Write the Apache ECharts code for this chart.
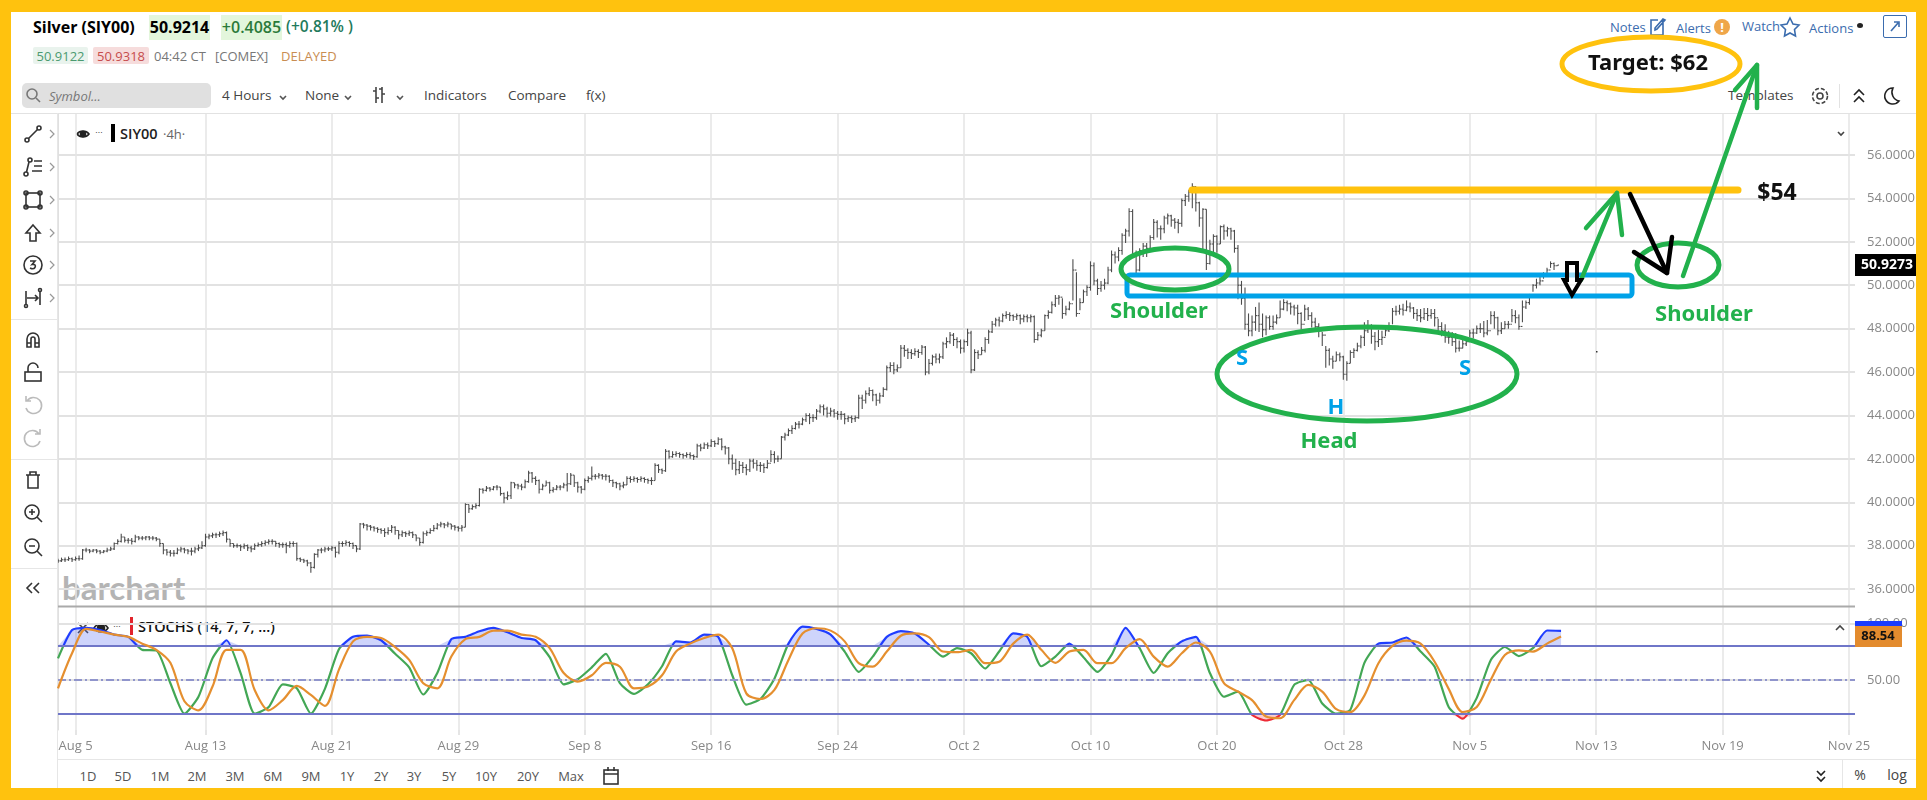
<!DOCTYPE html>
<html lang="en">
<head>
<meta charset="UTF-8">
<title>Silver (SIY00) 4h</title>
<style>
    html, body { margin: 0; padding: 0; background: #ffc20e; width: 1927px; height: 800px; overflow: hidden; font-family: 'Open Sans', sans-serif; }
    #page { position: absolute; left: 11px; top: 12px; width: 1905px; height: 776px; background: #fff; }
    #chrome { position: absolute; left: 0; top: 0; width: 1927px; height: 800px; }
    #chrome span { position: absolute; white-space: nowrap; transform: translateY(-50%); line-height: 1; }
    #chrome i { position: absolute; display: block; }
    #chrome svg { position: absolute; fill: none; stroke: #333; stroke-width: 1.6; }
    #chart { position: absolute; left: 0; top: 0; width: 1927px; height: 800px; }
</style>
<script src="https://cdn.jsdelivr.net/npm/echarts@6/dist/echarts.min.js"></script>
</head>
<body>
<div id="page"></div>
<div id="chrome"></div>
<div id="chart"></div>
<script>
// tick positions on the x axis, in 4h bars from the left edge of the plot
const tickBars = [5, 42, 78, 114, 150, 186, 222, 258, 294, 330, 366, 402, 438, 474, 510];
const tickLabels = ['Aug 5', 'Aug 13', 'Aug 21', 'Aug 29', 'Sep 8', 'Sep 16', 'Sep 24', 'Oct 2', 'Oct 10', 'Oct 20', 'Oct 28', 'Nov 5', 'Nov 13', 'Nov 19', 'Nov 25'];
const priceTicks = [36, 38, 40, 42, 44, 46, 48, 50, 52, 54, 56];
const stochTicks = [100, 50];
const lastPrice = 50.9273;
const lastStoch = '88.54';

const barClose = [
    37.3, 37.35, 37.35, 37.4, 37.35, 37.4, 37.4, 37.8, 37.8, 37.75,
    37.8, 37.75, 37.7, 37.75, 37.8, 37.85, 38.1, 38.2, 38.4, 38.25,
    38.25, 38.2, 38.4, 38.35, 38.35, 38.4, 38.35, 38.35, 38.3, 38.1,
    37.8, 37.7, 37.65, 37.65, 37.8, 37.85, 37.8, 37.75, 37.75, 37.85,
    37.9, 38.0, 38.4, 38.45, 38.5, 38.5, 38.55, 38.6, 38.3, 38.1,
    38.0, 38.0, 37.95, 38.0, 37.9, 37.85, 38.0, 38.05, 38.1, 38.15,
    38.2, 38.2, 38.1, 38.05, 38.05, 38.0, 38.1, 38.1, 37.4, 37.35,
    37.3, 37.2, 37.0, 37.6, 37.8, 37.8, 37.85, 37.85, 37.9, 37.7,
    38.1, 38.1, 38.15, 38.1, 38.0, 37.85, 39.0, 38.95, 38.9, 38.85,
    38.8, 38.75, 38.7, 38.6, 38.7, 38.85, 38.7, 38.5, 38.6, 38.55,
    38.6, 38.5, 38.35, 38.15, 38.55, 38.6, 38.7, 38.8, 38.95, 39.0,
    38.95, 39.0, 38.9, 38.85, 38.8, 38.85, 39.9, 39.7, 39.8, 39.85,
    40.6, 40.55, 40.65, 40.6, 40.7, 40.7, 40.4, 40.2, 40.3, 40.9,
    40.8, 40.75, 40.7, 40.95, 41.35, 41.1, 41.0, 40.6, 40.75, 40.9,
    40.55, 40.6, 40.7, 40.7, 40.8, 40.85, 41.25, 40.9, 40.7, 40.6,
    41.0, 41.1, 41.2, 41.2, 41.25, 41.2, 41.2, 41.0, 40.9, 40.85,
    40.75, 40.8, 41.1, 41.05, 41.1, 41.05, 41.1, 41.05, 41.0, 41.0,
    41.7, 41.5, 41.45, 42.35, 42.1, 42.2, 42.25, 42.2, 42.15, 42.2,
    42.15, 42.1, 42.6, 42.5, 42.65, 42.6, 42.8, 42.7, 42.9, 42.55,
    42.5, 42.0, 41.8, 41.5, 41.7, 41.6, 41.5, 41.9, 41.8, 41.7,
    41.7, 41.6, 41.8, 42.2, 42.0, 42.0, 43.0, 43.1, 43.3, 43.4,
    43.6, 43.6, 43.8, 44.0, 43.9, 43.9, 44.2, 44.4, 44.3, 44.1,
    44.2, 44.1, 44.05, 44.05, 43.85, 43.9, 43.85, 43.9, 44.8, 44.7,
    45.0, 45.15, 44.95, 44.7, 44.9, 45.2, 46.2, 46.3, 46.1, 46.2,
    47.1, 47.0, 46.9, 46.85, 46.95, 46.9, 47.15, 46.0, 46.4, 46.7,
    46.6, 46.7, 47.3, 47.4, 47.7, 47.5, 47.4, 47.1, 47.4, 47.8,
    46.1, 46.9, 46.8, 47.0, 47.5, 47.85, 48.2, 48.4, 48.35, 48.6,
    48.65, 48.6, 48.55, 48.6, 48.45, 48.55, 48.5, 48.55, 47.5, 47.7,
    47.9, 48.6, 48.75, 49.1, 49.4, 49.45, 48.7, 48.9, 49.15, 50.7,
    48.7, 49.2, 49.7, 49.9, 50.9, 50.2, 49.85, 50.0, 50.1, 50.7,
    51.4, 51.3, 51.6, 52.3, 52.5, 53.4, 51.4, 50.7, 51.6, 51.8,
    51.7, 52.2, 52.9, 52.6, 52.6, 53.1, 53.2, 53.0, 52.9, 52.85,
    53.9, 54.1, 54.3, 54.55, 53.8, 53.1, 53.5, 51.0, 51.9, 52.25,
    51.9, 52.7, 52.5, 52.6, 52.5, 51.7, 50.0, 49.4, 48.2, 47.9,
    48.3, 48.6, 48.2, 47.95, 48.5, 48.1, 48.3, 48.5, 48.9, 49.2,
    49.15, 49.0, 48.95, 48.7, 48.2, 48.9, 48.6, 48.3, 48.1, 47.9,
    47.7, 47.0, 46.6, 46.5, 46.8, 46.7, 45.9, 46.4, 46.9, 47.0,
    47.2, 47.6, 47.9, 48.1, 47.65, 47.4, 47.5, 47.6, 47.9, 48.1,
    48.8, 48.8, 48.9, 48.85, 49.0, 48.95, 48.7, 48.6, 48.5, 48.7,
    48.6, 48.7, 48.5, 48.1, 47.9, 47.6, 47.6, 47.4, 47.1, 47.1,
    47.3, 47.4, 47.8, 47.8, 48.0, 48.0, 47.8, 47.9, 48.6, 48.5,
    47.9, 48.0, 48.2, 48.2, 48.6, 48.5, 48.1, 49.0, 49.2, 49.5,
    50.0, 50.1, 50.2, 50.5, 50.7, 51.0, 50.9, 50.93
];
const barHigh = [
    37.4, 37.45, 37.45, 37.5, 37.45, 37.5, 37.55, 37.85, 37.9, 37.85,
    37.85, 37.85, 37.8, 37.8, 37.9, 37.95, 38.15, 38.3, 38.55, 38.4,
    38.35, 38.35, 38.5, 38.45, 38.45, 38.45, 38.45, 38.45, 38.4, 38.3,
    38.1, 37.85, 37.8, 37.8, 37.9, 37.95, 37.9, 37.85, 37.9, 37.95,
    38.05, 38.2, 38.55, 38.55, 38.6, 38.6, 38.65, 38.7, 38.65, 38.3,
    38.1, 38.1, 38.05, 38.1, 38.05, 38.0, 38.1, 38.15, 38.2, 38.25,
    38.3, 38.3, 38.2, 38.15, 38.15, 38.15, 38.2, 38.2, 38.15, 37.45,
    37.4, 37.35, 37.25, 37.65, 37.85, 37.9, 37.95, 37.95, 38.0, 37.95,
    38.2, 38.2, 38.25, 38.2, 38.15, 38.0, 39.05, 39.05, 39.0, 38.95,
    38.9, 38.85, 38.8, 38.8, 38.85, 38.95, 38.9, 38.7, 38.7, 38.65,
    38.7, 38.65, 38.5, 38.35, 38.65, 38.7, 38.8, 38.95, 39.05, 39.1,
    39.05, 39.1, 39.0, 38.95, 38.9, 38.95, 39.95, 39.9, 39.9, 39.95,
    40.65, 40.65, 40.75, 40.7, 40.75, 40.8, 40.7, 40.45, 40.5, 40.95,
    40.9, 40.85, 40.85, 41.05, 41.45, 41.4, 41.2, 41.05, 40.85, 41.0,
    40.95, 40.7, 40.8, 40.8, 40.9, 41.35, 41.35, 41.25, 40.95, 40.75,
    41.1, 41.2, 41.65, 41.3, 41.35, 41.3, 41.3, 41.25, 41.05, 40.95,
    40.9, 40.95, 41.2, 41.2, 41.2, 41.15, 41.2, 41.15, 41.1, 41.15,
    41.8, 41.75, 41.55, 42.45, 42.4, 42.35, 42.35, 42.3, 42.25, 42.3,
    42.3, 42.2, 42.7, 42.7, 42.75, 42.75, 42.9, 42.85, 43.0, 42.95,
    42.6, 42.55, 42.2, 42.0, 41.9, 41.85, 41.75, 42.0, 42.0, 41.95,
    41.85, 41.8, 41.95, 42.4, 42.35, 42.15, 43.05, 43.2, 43.4, 43.55,
    43.7, 43.75, 43.9, 44.1, 44.1, 44.05, 44.3, 44.5, 44.5, 44.4,
    44.35, 44.3, 44.2, 44.2, 44.1, 44.0, 44.0, 44.0, 44.95, 44.95,
    45.15, 45.3, 45.2, 45.0, 45.05, 45.3, 46.3, 46.45, 46.45, 46.35,
    47.25, 47.25, 47.1, 47.05, 47.1, 47.05, 47.25, 47.2, 46.6, 46.8,
    46.85, 46.85, 47.4, 47.6, 47.85, 47.8, 47.6, 47.5, 47.5, 48.0,
    47.9, 47.05, 47.0, 47.15, 47.6, 47.95, 48.35, 48.5, 48.55, 48.7,
    48.8, 48.75, 48.65, 48.7, 48.65, 48.65, 48.65, 48.65, 48.6, 47.85,
    48.0, 48.65, 48.85, 49.25, 49.55, 49.55, 49.4, 49.05, 49.25, 51.2,
    50.6, 49.4, 49.8, 50.0, 51.1, 51.05, 50.3, 50.2, 50.3, 50.85,
    51.6, 51.55, 51.75, 52.4, 52.6, 53.55, 53.5, 51.6, 51.7, 51.95,
    51.95, 52.3, 53.05, 53.0, 52.75, 53.2, 53.3, 53.25, 53.1, 53.05,
    54.0, 54.2, 54.4, 54.7, 54.55, 53.85, 53.55, 53.5, 52.1, 52.35,
    52.3, 52.75, 52.8, 52.7, 52.65, 52.55, 51.85, 50.2, 49.9, 48.7,
    48.6, 49.0, 49.2, 48.7, 48.6, 48.6, 48.6, 48.65, 49.3, 49.35,
    49.3, 49.2, 49.1, 49.1, 48.75, 49.1, 49.0, 48.75, 48.5, 48.25,
    47.85, 47.2, 47.1, 46.75, 46.95, 46.9, 46.75, 46.5, 47.0, 47.1,
    47.35, 47.7, 48.3, 48.4, 48.2, 47.85, 47.95, 47.9, 48.05, 48.3,
    48.95, 49.05, 49.1, 49.15, 49.3, 49.2, 49.0, 48.9, 48.9, 48.95,
    48.95, 48.9, 48.9, 48.45, 48.3, 48.2, 47.9, 47.85, 47.8, 47.45,
    47.6, 47.55, 47.95, 48.0, 48.15, 48.25, 48.35, 48.4, 48.8, 48.8,
    48.55, 48.3, 48.35, 48.35, 48.9, 48.85, 48.65, 49.3, 49.3, 49.6,
    50.05, 50.3, 50.45, 50.6, 50.8, 51.1, 51.05, 50.93
];
const barLow = [
    37.2, 37.25, 37.25, 37.3, 37.25, 37.3, 37.3, 37.35, 37.7, 37.65,
    37.7, 37.65, 37.6, 37.65, 37.7, 37.75, 37.8, 38.05, 38.15, 38.15,
    38.1, 38.05, 38.15, 38.25, 38.25, 38.25, 38.25, 38.25, 38.2, 37.95,
    37.6, 37.55, 37.5, 37.5, 37.6, 37.7, 37.65, 37.6, 37.55, 37.65,
    37.75, 37.85, 37.95, 38.3, 38.35, 38.35, 38.4, 38.45, 38.15, 37.95,
    37.9, 37.9, 37.75, 37.85, 37.75, 37.7, 37.8, 37.95, 37.95, 38.0,
    38.05, 38.05, 37.95, 37.9, 37.9, 37.65, 37.9, 37.95, 37.3, 37.25,
    37.2, 37.05, 36.75, 36.95, 37.45, 37.65, 37.7, 37.75, 37.75, 37.45,
    37.6, 37.95, 38.0, 37.95, 37.85, 37.7, 37.8, 38.8, 38.7, 38.7,
    38.65, 38.6, 38.55, 38.4, 38.5, 38.6, 38.5, 38.3, 38.4, 38.4,
    38.45, 38.35, 38.2, 38.0, 38.1, 38.45, 38.55, 38.65, 38.75, 38.85,
    38.8, 38.85, 38.75, 38.7, 38.65, 38.65, 38.85, 39.5, 39.65, 39.7,
    39.8, 40.4, 40.5, 40.5, 40.55, 40.55, 40.3, 39.95, 40.1, 40.15,
    40.65, 40.6, 40.55, 40.65, 40.9, 40.9, 40.8, 40.4, 40.55, 40.75,
    40.4, 40.45, 40.55, 40.55, 40.65, 40.5, 40.8, 40.7, 40.45, 40.4,
    40.55, 40.9, 41.0, 41.05, 41.1, 41.05, 41.0, 40.9, 40.7, 40.65,
    40.55, 40.65, 40.8, 40.9, 40.95, 40.9, 40.95, 40.9, 40.85, 40.8,
    41.0, 41.35, 41.3, 41.4, 42.0, 42.05, 42.1, 42.05, 42.0, 42.05,
    42.0, 41.95, 42.05, 42.35, 42.45, 42.45, 42.55, 42.55, 42.65, 42.4,
    42.2, 41.75, 41.5, 41.25, 41.3, 41.35, 41.25, 41.4, 41.55, 41.45,
    41.4, 41.35, 41.55, 41.85, 41.8, 41.85, 42.0, 42.85, 43.05, 43.15,
    43.35, 43.4, 43.55, 43.7, 43.6, 43.7, 43.8, 44.1, 44.0, 43.9,
    43.95, 43.9, 43.8, 43.8, 43.6, 43.7, 43.65, 43.7, 43.85, 44.3,
    44.55, 44.9, 44.65, 44.45, 44.55, 44.85, 45.15, 46.0, 45.9, 46.0,
    46.2, 46.7, 46.6, 46.6, 46.75, 46.65, 46.8, 45.85, 45.9, 46.3,
    46.4, 46.4, 46.6, 47.1, 47.3, 47.2, 47.1, 46.85, 46.9, 47.2,
    45.95, 46.05, 46.6, 46.8, 46.9, 47.3, 47.8, 48.1, 48.1, 48.3,
    48.45, 48.35, 48.35, 48.4, 48.2, 48.3, 48.3, 48.3, 47.35, 47.45,
    47.6, 47.9, 48.45, 48.7, 49.0, 49.1, 48.45, 48.6, 48.85, 49.3,
    48.55, 48.85, 49.2, 49.5, 49.75, 50.0, 49.55, 49.7, 49.8, 50.05,
    50.6, 51.0, 51.1, 51.4, 51.95, 52.25, 51.25, 50.55, 50.65, 51.3,
    51.3, 51.6, 52.1, 52.2, 52.1, 52.4, 52.8, 52.7, 52.6, 52.4,
    52.7, 53.65, 53.85, 53.55, 53.4, 52.7, 51.5, 50.7, 50.95, 51.5,
    51.5, 51.9, 52.1, 52.25, 52.1, 51.5, 49.35, 49.1, 47.95, 47.65,
    47.65, 47.9, 47.85, 47.6, 47.7, 47.95, 47.95, 48.2, 48.5, 48.85,
    48.8, 48.65, 48.6, 48.2, 47.95, 48.35, 48.4, 48.05, 47.85, 47.6,
    47.2, 46.2, 46.3, 46.15, 46.5, 46.5, 45.65, 45.6, 46.4, 46.65,
    46.95, 47.1, 47.2, 47.8, 47.3, 47.0, 47.15, 47.25, 47.65, 47.85,
    48.2, 48.6, 48.65, 48.6, 48.8, 48.75, 48.45, 48.35, 48.3, 48.4,
    48.35, 48.45, 48.1, 47.9, 47.65, 47.35, 47.3, 47.2, 46.9, 46.95,
    47.1, 47.2, 47.6, 47.55, 47.75, 47.8, 47.6, 47.7, 48.2, 48.0,
    47.7, 47.75, 48.0, 48.0, 48.3, 48.25, 47.95, 48.3, 48.9, 49.1,
    49.7, 49.85, 50.0, 50.3, 50.45, 50.8, 50.7, 50.9
];

// stochastics
const stochStep = 4;
const stochK = [
    69, 94, 96, 94, 90, 88, 76.5, 76, 47, 20, 35, 69, 85, 56, 20, 26, 46, 42.5, 20, 42,
    77, 88, 89, 85, 73, 61, 37, 56, 86, 88, 93, 96, 92, 87, 85, 70, 46, 50.5, 61, 73,
    47, 37.5, 46, 62, 84, 83, 90, 88, 54, 28, 33, 51, 82, 97, 95, 90, 75, 57, 70.5, 88,
    93, 91, 81, 70.5, 78, 73.5, 60, 75, 91, 88, 62, 70.5, 82, 70, 57, 72, 96, 78, 56, 73.5,
    84, 88, 56, 35, 39.5, 19, 14, 19, 45.5, 50, 29, 20, 23.5, 65, 82, 83, 87.4, 75, 61.6, 26,
    15.6, 34, 67.5, 79, 71, 78, 93.6, 93.3
];
const stochD = [
    42.5, 73.5, 95, 92.7, 90, 88, 82, 76.5, 65, 31, 23, 44, 76.5, 76.5, 41, 23, 32, 44.6, 36.6, 27,
    59, 84, 88, 87, 79, 67.6, 47, 42.5, 70.6, 86, 88, 93.5, 93.5, 90, 88, 78, 56, 48.4, 54, 65,
    61.6, 42.5, 44, 54, 75, 82, 87, 90, 78, 38, 33, 41, 67.6, 91, 95.6, 93.5, 84, 64.7, 61.7, 75,
    89, 91, 87.7, 75, 74.4, 76.5, 64.7, 66, 82, 90, 76.5, 65, 75, 76.5, 64.7, 64.7, 78, 86, 70.5, 61.7,
    73.5, 83, 75, 47, 39.6, 32, 17.5, 16, 32, 45.5, 39.6, 24, 21.5, 36, 64.7, 80, 84.7, 82, 66, 42,
    21.5, 26, 50, 72, 76, 75, 82, 88.3
];

const bars = barClose.map((c, i) => [i, barHigh[i], barLow[i], i ? barClose[i - 1] : c, c]);
const stochX = i => i * stochStep;

// page furniture: toolbar text and icons around the plot
const chrome = document.getElementById('chrome');
function text(x, y, str, css) {
    const s = document.createElement('span');
    s.textContent = str;
    s.style.cssText = 'left:' + x + 'px;top:' + y + 'px;' + (css || '');
    chrome.appendChild(s);
    return s;
}
function centred(x, y, str, css) {
    const s = text(x, y, str, css);
    s.style.transform = 'translate(-50%,-50%)';
}
function box(x, y, w, h, css) {
    const d = document.createElement('i');
    d.style.cssText = 'left:' + x + 'px;top:' + y + 'px;width:' + w + 'px;height:' + h + 'px;' + css;
    chrome.appendChild(d);
}
function icon(cx, cy, inner, css) {
    chrome.insertAdjacentHTML('beforeend', '<svg width="24" height="24" viewBox="0 0 24 24" style="left:' + (cx - 12) + 'px;top:' + (cy - 12) + 'px;' + (css || '') + '">' + inner + '</svg>');
}

// header
text(33, 27, 'Silver (SIY00)', 'font-size:16px;font-weight:700;color:#000;');
box(149, 15, 61, 25, 'background:#e3f6dc;');
box(221, 15, 61, 25, 'background:#e3f6dc;');
centred(179.5, 27, '50.9214', 'font-size:16px;font-weight:700;color:#000;');
centred(251.5, 27, '+0.4085', 'font-size:16px;font-weight:600;color:#2b7a3a;');
text(286, 27, '(+0.81% )', 'font-size:15.500px;font-weight:600;color:#1f7a5c;');
box(33, 47, 55, 17, 'background:#e9f3ed;border-radius:2px;');
box(93, 47, 56, 17, 'background:#f6dcdc;border-radius:2px;');
centred(60.5, 56, '50.9122', 'font-size:13px;color:#4b9a70;');
centred(121, 56, '50.9318', 'font-size:13px;color:#c64c4c;');
text(154, 56, '04:42 CT', 'font-size:13px;color:#777;');
text(215, 56, '[COMEX]', 'font-size:13px;color:#777;');
text(281, 56, 'DELAYED', 'font-size:13px;color:#c98d52;');

// top right links
const linkCss = 'font-size:13px;color:#3b6cae;';
text(1610, 27, 'Notes', linkCss);
text(1676, 28, 'Alerts', linkCss);
text(1742, 26, 'Watch', linkCss);
text(1809, 28, 'Actions', linkCss);
icon(1657, 27, '<path d="M18 5v15H6V5h7M10 15l2-1 8-9-2-1-8 9z"/>', 'stroke:#3b6cae;');
chrome.insertAdjacentHTML('beforeend', '<i style="left:1714px;top:19px;width:16px;height:16px;border-radius:50%;background:#efa649;"></i>');
centred(1722, 27, '!', 'font-size:13px;font-weight:700;color:#fff;');
icon(1790, 27, '<path d="M12 3l3 6 6 1-4.500 4.500 1 6.500L12 18l-5.500 3 1-6.500L3 10l6-1z"/>', 'stroke:#3b6cae;');
box(1857, 23, 6, 5, 'background:#222;border-radius:50%;');
box(1883, 15, 22, 21, 'border:1px solid #3b6cae;border-radius:2px;');
icon(1895, 26, '<path d="M8 17l7-8M11 8h5v5"/>', 'stroke:#3b6cae;');

// toolbar
box(22, 83, 189, 25, 'background:#e0e0e0;border-radius:5px;');
icon(33, 95, '<circle cx="11" cy="11" r="5"/><path d="M15 15l4 4"/>', 'stroke:#777;');
text(49, 96, 'Symbol...', 'font-size:13px;font-style:italic;color:#777;');
const barCss = 'font-size:13.500px;color:#444;';
text(222, 96, '4 Hours', barCss);
text(305, 96, 'None', barCss);
text(424, 96, 'Indicators', barCss);
text(508, 96, 'Compare', barCss);
text(586, 96, 'f(x)', barCss);
text(1728, 96, 'Templates', barCss);
[283, 348, 400].forEach(x => icon(x, 97, '<path d="M9 11l3 3 3-3"/>', 'stroke:#555;'));
icon(379, 95, '<path d="M9 4v16M15 4v16M6 8h3M9 15h3M12 6h3M15 11h3"/>', 'stroke:#444;');
icon(1820, 96, '<circle cx="12" cy="12" r="3"/><circle cx="12" cy="12" r="7.500" stroke-dasharray="4 2"/>', 'stroke:#444;');
box(1839, 84, 1, 24, 'background:#e2e2e2;');
icon(1859, 96, '<path d="M7 11l5-5 5 5M7 18l5-5 5 5"/>', 'stroke:#222;');
icon(1891, 96, '<path d="M14 4a8 8 0 1 0 6 13A9 9 0 0 1 14 4z"/>', 'stroke:#222;');
box(11, 113, 1905, 1, 'background:#e2e2e2;');

// drawing tools on the left
box(57, 113, 1, 675, 'background:#e6e6e6;');
icon(33, 134, '<circle cx="6" cy="18" r="2"/><circle cx="18" cy="6" r="2"/><path d="M7.500 16.500l9-9"/>');
icon(33, 167, '<circle cx="9" cy="5" r="2"/><circle cx="5" cy="19" r="2"/><path d="M8 7l-2.500 10M13 6h8M13 11h8M11 16h10"/>');
icon(33, 200, '<rect x="5" y="5" width="14" height="14"/><circle cx="5" cy="5" r="2"/><circle cx="19" cy="5" r="2"/><circle cx="5" cy="19" r="2"/><circle cx="19" cy="19" r="2"/>');
icon(33, 233, '<path d="M12 4l7 8h-4v8H9v-8H5z"/>');
icon(33, 265, '<circle cx="12" cy="12" r="9"/><path d="M9 8h5l-3 3.500c3-.5 4 1 3 3-1 1.500-3 1.500-5 .5"/>');
icon(33, 298, '<path d="M5 5v14M19 5v14M6 12h11M14 9l3 3-3 3"/><circle cx="5" cy="20" r="1.500"/><circle cx="19" cy="4" r="1.500"/>');
[134, 167, 200, 233, 265, 298].forEach(y => icon(52, y, '<path d="M10 8l4 4-4 4"/>', 'stroke:#999;stroke-width:1.200;'));
box(11, 319, 46, 1, 'background:#e6e6e6;');
icon(33, 340, '<path d="M6 19v-8a6 6 0 0 1 12 0v8h-4v-8a2 2 0 0 0-4 0v8zM6 15h4M14 15h4"/>', 'stroke-width:1.600;');
icon(33, 373, '<rect x="4" y="11" width="16" height="9"/><path d="M7 11V7a5 5 0 0 1 10 0"/>');
icon(33, 405, '<path d="M6 8a8 8 0 1 1-1 7M5 3v5h5"/>', 'stroke:#bbb;');
icon(33, 438, '<path d="M18 8a8 8 0 1 0 1 7M19 3v5h-5"/>', 'stroke:#bbb;');
box(11, 459, 46, 1, 'background:#e6e6e6;');
icon(33, 480, '<path d="M5 7h14M9 7V4h6v3M7 7v13h10V7"/>', 'stroke-width:1.600;');
icon(33, 513, '<circle cx="11" cy="11" r="7"/><path d="M16 16l5 5M8 11h6M11 8v6"/>', 'stroke-width:1.600;');
icon(33, 547, '<circle cx="11" cy="11" r="7"/><path d="M16 16l5 5M8 11h6"/>', 'stroke-width:1.600;');
box(11, 568, 46, 1, 'background:#e6e6e6;');
icon(33, 588, '<path d="M11 7l-5 5 5 5M18 7l-5 5 5 5"/>');

// pane legends
icon(83, 134, '<path d="M6 12c3-4 9-4 12 0-3 4-9 4-12 0z"/><circle cx="12" cy="12" r="2.500" fill="#222"/>', 'stroke:#222;');
text(95, 131, '\u2219\u2219\u2219', 'font-size:9px;color:#333;');
box(111, 124, 4, 18, 'background:#000;');
text(120, 134, 'SIY00', 'font-size:14.500px;font-weight:600;color:#222;');
text(163, 134, '\u00b74h\u00b7', 'font-size:13px;color:#666;');
icon(1841, 133, '<path d="M9 11l3 3 3-3"/>', 'stroke:#444;');
text(62, 587, 'barchart', 'font-family:Lato,sans-serif;font-size:33px;font-weight:700;color:#b4b4b4;');
icon(83, 628, '<path d="M7 7l10 10M17 7L7 17"/>', 'stroke:#444;');
icon(101, 628, '<path d="M5 12c3-5 11-5 14 0-3 5-11 5-14 0z"/><circle cx="12" cy="12" r="3.500" fill="#222"/>', 'stroke:#222;');
text(113, 625, '\u2219\u2219\u2219', 'font-size:9px;color:#333;');
box(130, 617, 3, 18, 'background:#e2242c;');
text(138, 627, 'STOCHS (14, 7, 7, ...)', 'font-size:14.500px;font-weight:600;color:#111;');
icon(1840, 628, '<path d="M8 14l4-4 4 4"/>', 'stroke:#444;');

// range buttons along the bottom
const rangeLabels = ['1D', '5D', '1M', '2M', '3M', '6M', '9M', '1Y', '2Y', '3Y', '5Y', '10Y', '20Y', 'Max'];
const rangeX = [88, 123, 160, 197, 235, 273, 311, 347, 381, 414, 449, 486, 528, 571];
rangeLabels.forEach((r, i) => centred(rangeX[i], 776, r, 'font-size:13px;color:#555;'));
icon(611, 776, '<rect x="5" y="6" width="14" height="14"/><path d="M5 10h14M9 3v4M15 3v4"/>');
box(57, 759, 1859, 1, 'background:#e6e6e6;');
box(1842, 760, 1, 28, 'background:#e6e6e6;');
icon(1821, 776, '<path d="M8 7l4 4 4-4M8 13l4 4 4-4"/>', 'stroke:#222;');
centred(1860, 775, '%', 'font-size:14px;color:#444;');
centred(1897, 775, 'log', 'font-size:14px;color:#444;');

const chart = echarts.init(document.getElementById('chart'), null, { renderer: 'canvas' });

function renderBar(params, api) {
    const x = api.value(0);
    const hi = api.coord([x, api.value(1)]);
    const lo = api.coord([x, api.value(2)]);
    const op = api.coord([x, api.value(3)]);
    const cl = api.coord([x, api.value(4)]);
    const style = { stroke: '#4d4d4d', lineWidth: 1.1, fill: null };
    return {
        type: 'group',
        children: [
            { type: 'line', shape: { x1: hi[0], y1: hi[1], x2: lo[0], y2: lo[1] }, style: style },
            { type: 'line', shape: { x1: op[0] - 1.5, y1: op[1], x2: op[0], y2: op[1] }, style: style },
            { type: 'line', shape: { x1: cl[0], y1: cl[1], x2: cl[0] + 1.5, y2: cl[1] }, style: style }
        ]
    };
}

const xAxisBase = {
    type: 'value',
    min: 0,
    max: 511.7,
    splitLine: { show: true, lineStyle: { color: '#e4e4e4', width: 1.5 } },
    axisLine: { show: false }
};
const gridLine = { show: true, lineStyle: { color: '#e2e2e2', width: 2 } };
const axisText = { color: '#888', fontSize: 13, fontFamily: 'Open Sans' };

// hand drawn markup on top of the chart
const green = '#22b14c';
const blue = '#00a2e8';
const gold = '#ffc20e';
function ring(cx, cy, rx, ry, color) {
    return { type: 'ellipse', shape: { cx: cx, cy: cy, rx: rx, ry: ry }, style: { fill: null, stroke: color, lineWidth: 5 }, z: 50 };
}
function stroke(points, color, width) {
    return { type: 'polyline', shape: { points: points }, style: { fill: null, stroke: color, lineWidth: width || 4.5, lineCap: 'round', lineJoin: 'round' }, z: 51 };
}
function note(x, y, str, color, size) {
    return { type: 'text', x: x, y: y, z: 52, style: { text: str, fill: color, font: 'bold ' + size + 'px "Noto Sans"', align: 'center', verticalAlign: 'middle' } };
}
const markup = [
    ring(1651, 64, 89, 27, gold),
    note(1648, 64, 'Target: $62', '#111', 22),
    { type: 'rect', shape: { x: 1127, y: 275, width: 505, height: 21, r: 3 }, style: { fill: null, stroke: blue, lineWidth: 5 }, z: 49 },
    ring(1175, 269, 54, 21, green),
    ring(1367, 374, 150, 47, green),
    ring(1678, 265, 41, 22, green),
    stroke([[1192, 190], [1738, 190]], gold, 7),
    note(1777, 193, '$54', '#111', 23),
    note(1159, 312, 'Shoulder', green, 22),
    note(1704, 315, 'Shoulder', green, 22),
    note(1329, 442, 'Head', green, 22),
    note(1242, 359, 'S', blue, 22),
    note(1465, 369, 'S', blue, 22),
    note(1336, 408, 'H', blue, 22),
    stroke([[1581, 280], [1617, 193]], green),
    stroke([[1586, 228], [1617, 193], [1622, 235]], green),
    stroke([[1630, 194], [1667, 273]], '#000'),
    stroke([[1634, 252], [1667, 273], [1672, 237]], '#000'),
    stroke([[1683, 276], [1757, 65]], green),
    stroke([[1735, 90], [1757, 65], [1757, 108]], green),
    { type: 'polygon', shape: { points: [[1567, 263], [1577, 263], [1577, 280], [1581, 280], [1572, 295], [1564, 280], [1567, 280]] }, style: { fill: 'rgba(255,255,255,0.6)', stroke: '#000', lineWidth: 4 }, z: 53 },
    { type: 'rect', shape: { x: 1596, y: 351, width: 1.5, height: 1.5 }, style: { fill: '#333' }, z: 53 },
    // current value tags
    { type: 'rect', shape: { x: 1855, y: 254, width: 61, height: 22 }, style: { fill: '#000' }, z: 40 },
    { type: 'text', x: 1887, y: 265, z: 41, style: { text: lastPrice.toFixed(4), fill: '#fff', font: 'bold 14px "Open Sans"', align: 'center', verticalAlign: 'middle' } },
    { type: 'rect', shape: { x: 1855, y: 621, width: 47, height: 5 }, style: { fill: '#1a3cff' }, z: 42 },
    { type: 'rect', shape: { x: 1855, y: 626, width: 47, height: 21 }, style: { fill: '#e38b2e' }, z: 42 },
    { type: 'text', x: 1878, y: 636.5, z: 43, style: { text: lastStoch, fill: '#111', font: 'bold 13px "Open Sans"', align: 'center', verticalAlign: 'middle' } }
];

chart.setOption({
    backgroundColor: 'transparent',
    animation: false,
    grid: [
        { left: 58, top: 114, width: 1797, height: 492, containLabel: false, show: false },
        { left: 58, top: 607, width: 1797, height: 123, containLabel: false, show: false }
    ],
    xAxis: [
        Object.assign({ gridIndex: 0, axisLabel: { show: false, customValues: tickBars }, axisTick: { show: false, customValues: tickBars } }, xAxisBase),
        Object.assign({
            gridIndex: 1,
            axisLabel: Object.assign({ customValues: tickBars, margin: 10, formatter: v => tickLabels[tickBars.indexOf(v)] }, axisText),
            axisTick: { show: true, customValues: tickBars, length: 5, lineStyle: { color: '#ddd', width: 1.5 } }
        }, xAxisBase)
    ],
    yAxis: [
        {
            gridIndex: 0, type: 'value', position: 'right', min: 35.22, max: 57.89,
            axisLine: { show: true, lineStyle: { color: '#e0e0e0', width: 1 } },
            axisTick: { show: false, customValues: priceTicks },
            axisLabel: Object.assign({ customValues: priceTicks, margin: 12, formatter: v => v.toFixed(4) }, axisText),
            splitLine: gridLine
        },
        {
            gridIndex: 1, type: 'value', position: 'right', min: 5.6, max: 114.4,
            axisLine: { show: true, lineStyle: { color: '#e0e0e0', width: 1 } },
            axisTick: { show: false, customValues: stochTicks },
            axisLabel: Object.assign({ customValues: stochTicks, margin: 12, formatter: v => v.toFixed(2) }, axisText),
            splitLine: gridLine
        }
    ],
    visualMap: {
        show: false,
        seriesIndex: 2,
        dimension: 1,
        pieces: [
            { lt: 20, color: '#ee2b36' },
            { gte: 20, lte: 80, color: '#43a755' },
            { gt: 80, color: '#1f3dff' }
        ]
    },
    series: [
        {
            name: 'SIY00',
            type: 'custom',
            xAxisIndex: 0,
            yAxisIndex: 0,
            data: bars,
            encode: { x: 0, y: [1, 2, 3, 4] },
            renderItem: renderBar,
            clip: true,
            silent: true
        },
        {
            name: 'band',
            type: 'line',
            xAxisIndex: 1,
            yAxisIndex: 1,
            data: stochK.map((v, i) => [stochX(i), Math.max(v, 80)]),
            symbol: 'none',
            lineStyle: { width: 0 },
            areaStyle: { origin: 80, color: 'rgba(70,95,240,0.38)' },
            markLine: {
                silent: true,
                symbol: 'none',
                label: { show: false },
                lineStyle: { color: '#6f76c8', width: 2, type: 'solid' },
                data: [
                    { yAxis: 80 },
                    { yAxis: 20 },
                    { yAxis: 50, lineStyle: { color: '#9095cc', width: 2, type: [8, 3, 2, 3] } }
                ]
            }
        },
        {
            name: '%K',
            type: 'line',
            xAxisIndex: 1,
            yAxisIndex: 1,
            data: stochK.map((v, i) => [stochX(i), v]),
            symbol: 'none',
            smooth: 0.2,
            lineStyle: { width: 2.2 },
            z: 4
        },
        {
            name: 'low band',
            type: 'line',
            xAxisIndex: 1,
            yAxisIndex: 1,
            data: stochK.map((v, i) => [stochX(i), Math.min(v, 20)]),
            symbol: 'none',
            lineStyle: { width: 0 },
            areaStyle: { origin: 20, color: 'rgba(238,43,54,0.35)' }
        },
        {
            name: '%D',
            type: 'line',
            xAxisIndex: 1,
            yAxisIndex: 1,
            data: stochD.map((v, i) => [stochX(i), v]),
            symbol: 'none',
            smooth: 0.3,
            lineStyle: { width: 2.2, color: '#e58f2f' },
            z: 5
        }
    ],
    graphic: [
        { type: 'line', shape: { x1: 58, y1: 606.5, x2: 1855, y2: 606.5 }, style: { stroke: '#aaa', lineWidth: 2 }, z: 30 }
    ].concat(markup)
});
</script>
</body>
</html>
